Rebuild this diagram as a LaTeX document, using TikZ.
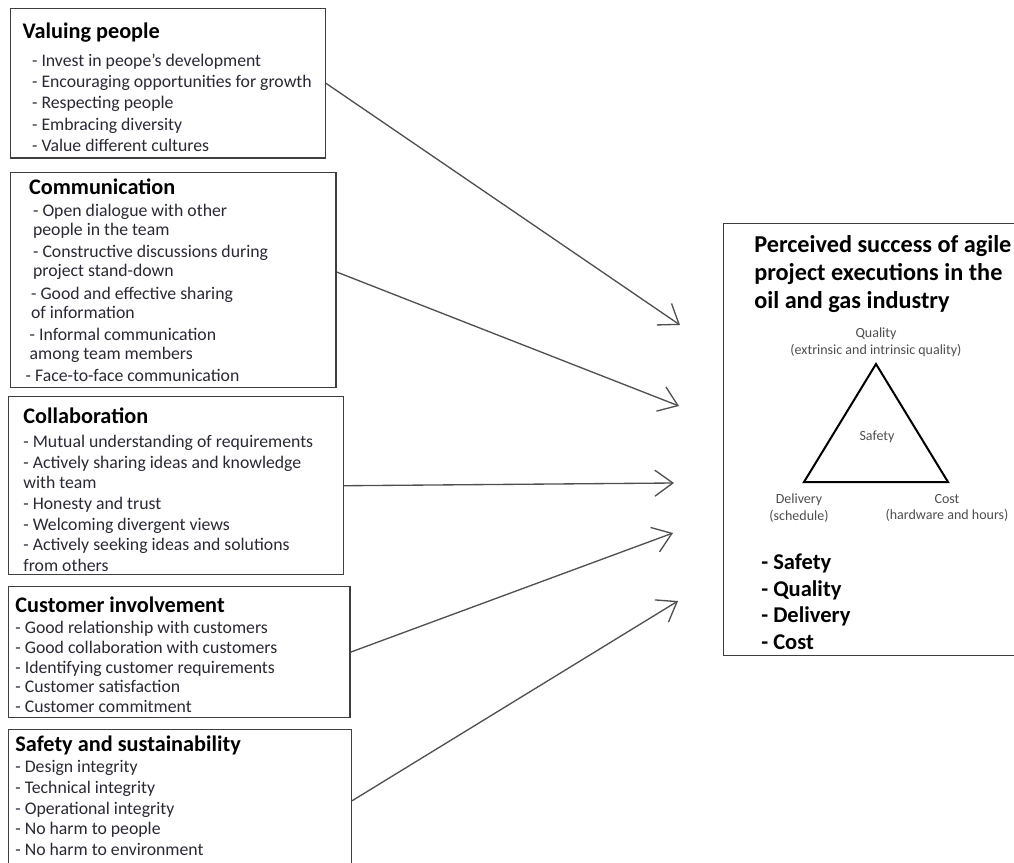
\documentclass[tikz,border=0pt]{standalone}
\usepackage{fontspec}
\setmainfont{Carlito}
\usetikzlibrary{arrows.meta,positioning}
\definecolor{edge}{RGB}{62,62,62}
\definecolor{ink}{RGB}{42,40,52}
\definecolor{lbl}{RGB}{78,78,78}
\definecolor{wire}{RGB}{80,80,80}
\newcommand{\boxtitle}[2]{\makebox[#1][l]{\fontsize{16.7}{18}\selectfont\bfseries\color{black}#2}}
\newcommand{\padtop}[1]{\rule{0pt}{#1}}
\newcommand{\padbot}[1]{\rule[-#1]{0pt}{#1}}
\tikzset{
  box/.style={rectangle,draw=edge,line width=1.1pt,anchor=north west,align=left,
              inner ysep=1pt,text=ink,font=\fontsize{13.3}{15.5}\selectfont},
  goalbox/.style={rectangle,draw=edge,line width=1.1pt,anchor=north west,inner sep=0pt,
              minimum width=240pt,minimum height=324pt},
  headline/.style={anchor=north west,align=left,inner sep=0pt,
              font=\fontsize{18.2}{21}\selectfont\bfseries},
  tlabel/.style={align=center,inner sep=0pt,text=lbl,font=\fontsize{10.5}{12.4}\selectfont},
  tri/.style={draw=black,line width=1.5pt,line join=miter},
  feed/.style={-{Straight Barb[length=13.5pt,width=19.5pt]},draw=wire,line width=1pt},
}
\begin{document}
\begin{tikzpicture}[x=0.75pt,y=-0.75pt]
  \useasboundingbox (0,0) rectangle (1014,863);

  % factor boxes
  \node[box,inner xsep=9pt,minimum width=236pt,minimum height=112pt,
        font=\fontsize{13.3}{15.9}\selectfont] (val) at (10,8)
    {\padtop{17.5pt}\boxtitle{218pt}{Valuing people}\\[5pt]
     \hspace{7pt}- Invest in peope's development\\
     \hspace{7pt}- Encouraging opportunities for growth\\
     \hspace{7pt}- Respecting people\\
     \hspace{7pt}- Embracing diversity\\
     \hspace{7pt}- Value different cultures};
  \node[box,inner xsep=11pt,minimum width=244pt,minimum height=161pt,
        font=\fontsize{13.3}{14.3}\selectfont] (comm) at (10,172)
    {\hspace{2.5pt}\boxtitle{219pt}{Communication}\\[2.5pt]
     \hspace{5.5pt}- Open dialogue with other\\
     \hspace{5.5pt}people in the team\\[2.3pt]
     \hspace{5.5pt}- Constructive discussions during\\
     \hspace{5.5pt}project stand-down\\[2.3pt]
     \hspace{4pt}- Good and effective sharing\\
     \hspace{4pt}of information\\[2.3pt]
     \hspace{3pt}- Informal communication\\
     \hspace{3pt}among team members\\[2.3pt]
     - Face-to-face communication};
  \node[box,inner xsep=11pt,minimum width=251pt,minimum height=133.5pt] (coll) at (8,396)
    {\padtop{17.5pt}\boxtitle{229pt}{Collaboration}\\[2.75pt]
     - Mutual understanding of requirements\\
     - Actively sharing ideas and knowledge\\
     with team\\
     - Honesty and trust\\
     - Welcoming divergent views\\
     - Actively seeking ideas and solutions\\
     from others};
  \node[box,inner xsep=5pt,minimum width=256pt,minimum height=98pt,
        font=\fontsize{13.3}{14.8}\selectfont] (cust) at (8,586)
    {\padtop{16pt}\boxtitle{246pt}{Customer involvement}\\[1pt]
     - Good relationship with customers\\
     - Good collaboration with customers\\
     - Identifying customer requirements\\
     - Customer satisfaction\\
     - Customer commitment};
  \node[box,inner xsep=5pt,minimum width=257pt,minimum height=106.5pt] (safe) at (8,729)
    {\boxtitle{247pt}{Safety and sustainability}\\[0.5pt]
     - Design integrity\\
     - Technical integrity\\
     - Operational integrity\\
     - No harm to people\\
     - No harm to environment\padbot{7.5pt}};

  % outcome box
  \node[goalbox] (goal) at (723,223) {};
  \node[headline] (head) at (754,235)
    {Perceived success of agile\\project executions in the\\oil and gas industry};
  \coordinate (qv) at (876,364);
  \coordinate (dv) at (804,482);
  \coordinate (cv) at (948,482);
  \draw[tri] (qv) -- (dv) -- (cv) -- cycle;
  \node[tlabel] (qual) at (876,342) {Quality\\(extrinsic and intrinsic quality)};
  \node[tlabel] (mid) at (877,437) {Safety};
  \node[tlabel] (deliv) at (799,508) {Delivery\\(schedule)};
  \node[tlabel] (cost) at (947,508) {Cost\\(hardware and hours)};
  \node[headline,font=\fontsize{16.9}{19.9}\selectfont\bfseries] (list) at (761,554)
    {- Safety\\- Quality\\- Delivery\\- Cost};

  % arrows
  \coordinate (t1) at (680,325);
  \coordinate (t2) at (679,406);
  \coordinate (t3) at (674,483);
  \coordinate (t4) at (673,533);
  \coordinate (t5) at (678,601);
  \draw[feed] (val.east) -- (t1);
  \draw[feed] ([yshift=6pt]comm.east) -- (t2);
  \draw[feed] (coll.east) -- (t3);
  \draw[feed] (cust.east) -- (t4);
  \draw[feed] (safe.east) -- (t5);
\end{tikzpicture}
\end{document}
